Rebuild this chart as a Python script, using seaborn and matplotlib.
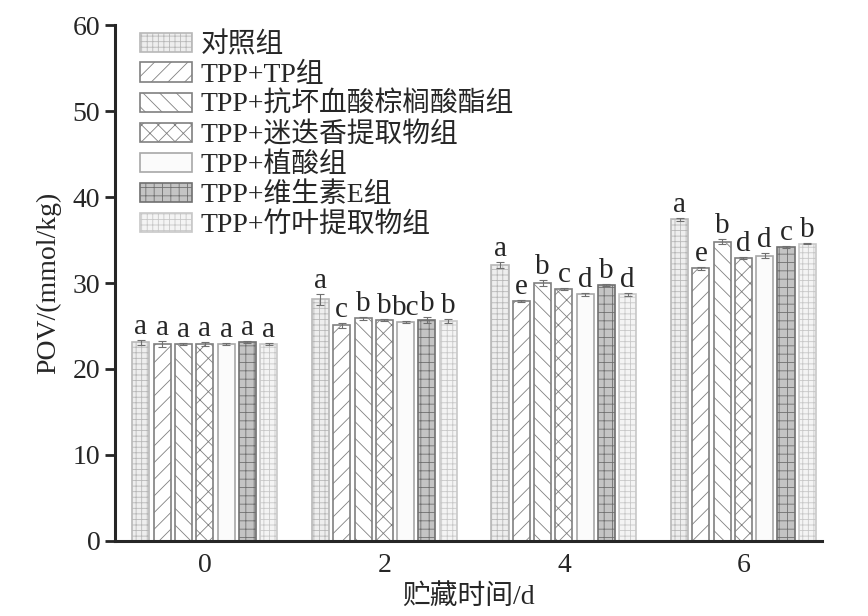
import matplotlib
matplotlib.use('Agg')
import matplotlib.pyplot as plt
import seaborn as sns
import pandas as pd

days = ['0', '2', '4', '6']
groups = ['对照组', 'TPP+TP组', 'TPP+抗坏血酸棕榈酸酯组', 'TPP+迷迭香提取物组',
          'TPP+植酸组', 'TPP+维生素E组', 'TPP+竹叶提取物组']

# POV values per group, one entry per storage day
pov = {
    '对照组':              [23.1, 28.1, 32.1, 37.4],
    'TPP+TP组':            [22.9, 25.1, 27.9, 31.7],
    'TPP+抗坏血酸棕榈酸酯组': [22.9, 25.9, 30.0, 34.8],
    'TPP+迷迭香提取物组':    [22.9, 25.7, 29.3, 32.9],
    'TPP+植酸组':           [22.9, 25.5, 28.7, 33.2],
    'TPP+维生素E组':        [23.1, 25.7, 29.8, 34.2],
    'TPP+竹叶提取物组':      [22.9, 25.6, 28.7, 34.6],
}
err = {
    '对照组':              [0.3, 0.6, 0.3, 0.2],
    'TPP+TP组':            [0.3, 0.3, 0.1, 0.2],
    'TPP+抗坏血酸棕榈酸酯组': [0.1, 0.2, 0.3, 0.3],
    'TPP+迷迭香提取物组':    [0.2, 0.1, 0.1, 0.1],
    'TPP+植酸组':           [0.1, 0.1, 0.2, 0.3],
    'TPP+维生素E组':        [0.1, 0.4, 0.1, 0.1],
    'TPP+竹叶提取物组':      [0.1, 0.2, 0.2, 0.1],
}
letters = {
    '对照组':              ['a', 'a', 'a', 'a'],
    'TPP+TP组':            ['a', 'c', 'e', 'e'],
    'TPP+抗坏血酸棕榈酸酯组': ['a', 'b', 'b', 'b'],
    'TPP+迷迭香提取物组':    ['a', 'b', 'c', 'd'],
    'TPP+植酸组':           ['a', 'bc', 'd', 'd'],
    'TPP+维生素E组':        ['a', 'b', 'b', 'c'],
    'TPP+竹叶提取物组':      ['a', 'b', 'd', 'b'],
}

# style per group: face colour, hatch, hatch/edge colour
styles = [
    ('#eeeeee', '+++', '#b8b8b8'),
    ('white', '//', '#808080'),
    ('white', '\\\\', '#808080'),
    ('white', 'xx', '#808080'),
    ('#fbfbfb', '', '#a8a8a8'),
    ('#c4c4c4', '++', '#707070'),
    ('#f4f4f4', '+++', '#c8c8c8'),
]

rows = []
for g in groups:
    for d, v in zip(days, pov[g]):
        rows.append({'day': d, 'group': g, 'pov': v})
df = pd.DataFrame(rows)

sns.set_style('ticks')
plt.rcParams['font.family'] = ['Liberation Serif', 'Noto Sans CJK SC']
plt.rcParams['hatch.linewidth'] = 0.6

fig = plt.figure(figsize=(8.68, 6.16), dpi=100)
ax = fig.add_axes([0.1325, 0.122, 0.815, 0.837])

sns.barplot(data=df, x='day', y='pov', hue='group', hue_order=groups,
            width=0.83, gap=0.2, errorbar=None, ax=ax, legend=False)

handles = []
for cont, g, (fc, hatch, ec) in zip(ax.containers, groups, styles):
    for bar, e, lab in zip(cont, err[g], letters[g]):
        bar.set_facecolor(fc)
        bar.set_hatch(hatch)
        bar.set_edgecolor(ec)
        bar.set_linewidth(1.2)
        x = bar.get_x() + bar.get_width() / 2
        h = bar.get_height()
        ax.errorbar(x, h, yerr=e, fmt='none', ecolor='#707070',
                    elinewidth=0.8, capsize=3, capthick=0.8, zorder=3)
        ax.annotate(lab, (x, h + e), xytext=(0, 0), textcoords='offset points',
                    ha='center', va='bottom', fontsize=21)
    handles.append(cont.patches[0])

ax.set_ylim(0, 60)
ax.set_xlim(-0.5, 3.44)
ax.set_yticks(range(0, 61, 10))
ax.set_xlabel('贮藏时间/d', fontsize=20, labelpad=4)
ax.set_ylabel('POV/(mmol/kg)', fontsize=20, labelpad=8)
ax.tick_params(axis='y', labelsize=20, length=7, width=2, direction='out')
ax.tick_params(axis='x', labelsize=20, length=0, pad=9)
for s in ['left', 'bottom']:
    ax.spines[s].set_linewidth(2.2)
for s in ['top', 'right']:
    ax.spines[s].set_visible(False)

ax.legend(handles=handles, labels=groups, loc='upper left',
          bbox_to_anchor=(140 / 868, 1 - 32 / 616), bbox_transform=fig.transFigure,
          frameon=False, fontsize=20, handlelength=1.87, handleheight=0.7,
          labelspacing=0.15, handletextpad=0.3, borderpad=0, borderaxespad=0)

fig.savefig('out.png', dpi=100)
